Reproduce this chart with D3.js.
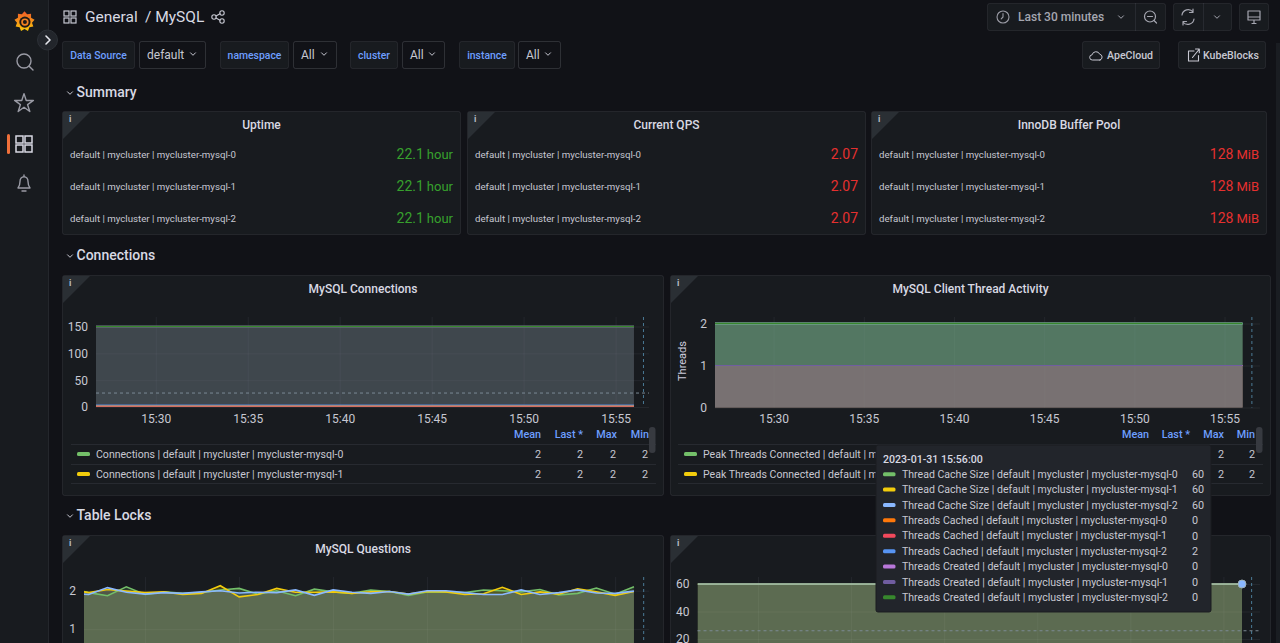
<!DOCTYPE html>
<html>
<head>
<meta charset="utf-8">
<title>MySQL</title>
<script src="https://cdn.jsdelivr.net/npm/d3@7"></script>
<style>
html, body { margin: 0; padding: 0; background: #111217; overflow: hidden; }
svg { display: block; font-family: Roboto, sans-serif; }
.tick line { stroke: #ccccdc; stroke-opacity: 0.07; }
.tick text { fill: #c7c8d2; font-size: 12px; font-family: Roboto, sans-serif; }
.domain { display: none; }
</style>
</head>
<body>
<div id="chart"></div>
<script>
var width = 1280, height = 643;

// ---- data ----
var palette = ['#73BF69', '#F2CC0C', '#8AB8FF', '#FF780A', '#F2495C', '#5794F2', '#B877D9', '#705DA0', '#37872D'];

var instances = ['mycluster-mysql-0', 'mycluster-mysql-1', 'mycluster-mysql-2'];
var uptimeValues = ['22.1', '22.1', '22.1'];
var qpsValues = ['2.07', '2.07', '2.07'];
var bufferValues = ['128', '128', '128'];

var flatTimes = ['15:26:45', '15:56:00'];
var connectionLevels = [[2, 2], [2, 2], [2, 2], [2, 2], [1, 1], [4, 4], [150, 150], [150, 150], [150, 150]];
var threadLevels = [[2, 2], [2, 2], [2, 2], [1, 1], [1, 1], [2, 2], [1, 1], [1, 1], [2, 2]];
var cacheLevels = [[60, 60], [60, 60], [60, 60], [0, 0], [0, 0], [2, 2], [0, 0], [0, 0], [0, 0]];

var questionTimes = ['15:26:45', '15:27:00', '15:28:00', '15:29:00', '15:30:00', '15:31:00', '15:32:00', '15:33:00',
  '15:34:00', '15:35:00', '15:36:00', '15:37:00', '15:38:00', '15:39:00', '15:40:00', '15:41:00', '15:42:00',
  '15:43:00', '15:44:00', '15:45:00', '15:46:00', '15:47:00', '15:48:00', '15:49:00', '15:50:00', '15:51:00',
  '15:52:00', '15:53:00', '15:54:00', '15:55:00', '15:56:00'];
var questionsGreen = [1.98, 1.95, 1.87, 2.10, 1.90, 1.97, 1.93, 1.95, 2.02, 2.06, 1.91, 2.00, 1.87, 2.04, 1.97, 1.93,
  2.02, 1.98, 1.88, 1.97, 1.96, 1.95, 2.02, 2.00, 1.97, 2.03, 1.89, 1.93, 2.07, 1.91, 2.10];
var questionsYellow = [1.97, 1.95, 2.03, 1.99, 1.95, 1.97, 1.90, 1.93, 2.13, 1.84, 1.90, 2.06, 1.96, 1.96, 1.97, 1.93,
  1.97, 1.98, 1.91, 1.98, 1.97, 1.90, 1.92, 2.09, 1.90, 1.97, 1.91, 2.05, 1.97, 1.88, 1.98];
var questionsBlue = [1.91, 1.90, 2.08, 1.96, 1.91, 1.95, 1.93, 1.97, 2.00, 1.94, 1.96, 1.95, 2.02, 1.88, 2.02, 1.96,
  1.93, 1.98, 1.91, 2.00, 2.00, 1.95, 1.90, 1.90, 2.02, 1.90, 1.95, 2.02, 1.94, 1.93, 1.99];

var tickTimes = ['15:30:00', '15:35:00', '15:40:00', '15:45:00', '15:50:00', '15:55:00'];
var legendStats = ['Mean', 'Last *', 'Max', 'Min'];
var legendValues = [2, 2, 2, 2];
var tooltipDate = '2023-01-31 15:56:00';
var tooltipNames = ['Thread Cache Size', 'Thread Cache Size', 'Thread Cache Size', 'Threads Cached', 'Threads Cached',
  'Threads Cached', 'Threads Created', 'Threads Created', 'Threads Created'];
var tooltipValues = [60, 60, 60, 0, 0, 2, 0, 0, 0];

// ---- helpers ----
var parseTime = d3.timeParse('%H:%M:%S'),
    tickFormat = d3.timeFormat('%H:%M');
var panelBg = '#181b1f', lineCol = 'rgba(204,204,220,0.09)', textCol = '#ccccdc', blue = '#6e9fff';

var svg = d3.select('#chart').append('svg')
    .attr('width', width)
    .attr('height', height)
    .style('background', '#111217');

var defs = svg.append('defs');
var logoGrad = defs.append('linearGradient').attr('id', 'logoGrad').attr('x1', 0).attr('y1', 1).attr('x2', 0).attr('y2', 0);
logoGrad.append('stop').attr('offset', '0%').attr('stop-color', '#fbca0a');
logoGrad.append('stop').attr('offset', '100%').attr('stop-color', '#f05a28');

function label(g, x, y, str, o) {
  o = o || {};
  return g.append('text')
    .attr('x', x).attr('y', y).attr('dy', '0.35em')
    .attr('text-anchor', o.anchor || 'start')
    .attr('fill', o.fill || textCol)
    .attr('font-size', o.size || 12)
    .attr('font-weight', o.weight || 400)
    .text(str);
}

function box(g, x0, x1, y0, y1, fill, stroke) {
  return g.append('rect')
    .attr('x', x0 + 0.5).attr('y', y0 + 0.5)
    .attr('width', x1 - x0 - 1).attr('height', y1 - y0 - 1)
    .attr('rx', 2)
    .attr('fill', fill)
    .attr('stroke', stroke || lineCol);
}

function icon(g, d, col, w) {
  return g.append('path').attr('d', d).attr('fill', 'none')
    .attr('stroke', col || '#c7c8d2').attr('stroke-width', w || 1.3)
    .attr('stroke-linecap', 'round').attr('stroke-linejoin', 'round');
}

function chevron(g, x, y, col) {
  icon(g, 'M' + (x - 2.5) + ' ' + (y - 1.2) + 'L' + x + ' ' + (y + 1.3) + 'L' + (x + 2.5) + ' ' + (y - 1.2), col || '#c7c8d2', 1);
}

function gridIcon(g, x, y, s, col, w) {
  var c = (s - 2) / 2;
  [[0, 0], [c + 2, 0], [0, c + 2], [c + 2, c + 2]].forEach(function(p) {
    g.append('rect').attr('x', x + p[0]).attr('y', y + p[1]).attr('width', c).attr('height', c)
      .attr('fill', 'none').attr('stroke', col).attr('stroke-width', w);
  });
}

function panel(x0, x1, y0, y1, title) {
  var g = svg.append('g');
  box(g, x0, x1, y0, y1, panelBg);
  g.append('path')
    .attr('d', 'M' + (x0 + 1) + ' ' + (y0 + 1) + 'h27l-27 27z')
    .attr('fill', '#2a2f34');
  label(g, x0 + 7, y0 + 8, 'i', { size: 9, weight: 700, fill: '#b9bac4' });
  if (title) label(g, (x0 + x1) / 2, y0 + 14, title, { anchor: 'middle', size: 12, weight: 500, fill: '#d8d9e3' });
  return g;
}

function statPanel(x0, x1, title, values, unit, col) {
  var g = panel(x0, x1, 111, 235, title);
  var rowY = d3.scalePoint().domain(instances).range([155, 219]);
  instances.forEach(function(inst, i) {
    label(g, x0 + 8, rowY(inst) - 0.5, 'default | mycluster | ' + inst, { size: 9.7, fill: '#c7c8d2' });
    var t = label(g, x1 - 8, rowY(inst) - 0.5, '', { anchor: 'end', fill: col, size: 14 });
    t.append('tspan').text(values[i]);
    if (unit) t.append('tspan').attr('dx', 3).attr('font-size', 13).text(unit);
  });
}

// time series drawn with its own scales and axes
function timeSeries(o) {
  var g = svg.append('g');
  var x = d3.scaleTime().domain(o.xDomain.map(parseTime)).range([o.x0, o.x1]);
  var y = d3.scaleLinear().domain(o.yDomain).range([o.y0, o.y1]);
  var clipId = 'clip' + Math.round(o.x0) + Math.round(o.y1);
  defs.append('clipPath').attr('id', clipId).append('rect')
    .attr('x', o.x0).attr('y', o.y1).attr('width', o.x1 - o.x0).attr('height', o.y0 - o.y1 + 2);

  // panels that run past the bottom of the page show no time labels
  var xAxis = d3.axisBottom(x).tickValues(tickTimes.map(parseTime)).tickSize(0);
  xAxis.tickFormat(o.xLabels === false ? '' : tickFormat);
  g.append('g')
    .attr('transform', 'translate(0,' + o.y0 + ')')
    .call(xAxis)
    .call(function(a) {
      a.selectAll('text').attr('y', Math.floor(o.y0) + 12 - o.y0).attr('dy', '0.35em');
      a.selectAll('line').attr('y2', o.y1 - o.y0);
    });

  g.append('g')
    .attr('transform', 'translate(' + o.x0 + ',0)')
    .call(d3.axisLeft(y).tickValues(o.yTicks).tickFormat(d3.format('d')).tickSize(-(o.x1 - o.x0)).tickPadding(8));

  var times = o.times.map(parseTime);
  var area = d3.area()
    .x(function(d, i) { return x(times[i]); })
    .y0(y(0))
    .y1(function(d) { return y(d); });
  var line = d3.line()
    .x(function(d, i) { return x(times[i]); })
    .y(function(d) { return y(d); });

  var top = d3.max(o.series, function(s) { return d3.max(s); });
  var marks = g.append('g').attr('clip-path', 'url(#' + clipId + ')');
  marks.selectAll('.fill').data(o.series).enter().append('path')
    .attr('d', area)
    .attr('fill', function(d, i) { return palette[i]; })
    .attr('fill-opacity', 0.2);
  marks.selectAll('.stroke').data(o.series).enter().append('path')
    .attr('d', line)
    .attr('fill', 'none')
    .attr('stroke', function(d, i) { return palette[i]; })
    .attr('stroke-width', function(d) { return o.topWidth && d[0] === top ? o.topWidth : (o.lineWidth || 1); })
    .attr('stroke-opacity', function(d) { return o.dimBelow && d[0] < o.dimBelow ? 0.55 : 1; });

  // shared crosshair
  var cross = parseTime('15:56:31');
  g.append('line')
    .attr('x1', x(cross)).attr('x2', x(cross))
    .attr('y1', o.y1).attr('y2', Math.min(o.y0, height))
    .attr('stroke', '#4a7a96').attr('stroke-dasharray', '3,3');
  if (o.crossValue !== undefined) {
    g.append('line')
      .attr('x1', o.x0).attr('x2', o.x1)
      .attr('y1', y(o.crossValue)).attr('y2', y(o.crossValue))
      .attr('stroke', '#7b8a94').attr('stroke-dasharray', '3,3');
  }
  return { x: x, y: y, g: g };
}

// rows[i] is the visible text of a legend row, valueX holds only the columns left uncovered
function legend(x0, x1, swatchX, textX, rows, statRight, valueX) {
  var g = svg.append('g');
  legendStats.forEach(function(s, i) {
    label(g, statRight[i], 434.5, s, { anchor: 'end', fill: blue, size: 10.8, weight: 500 });
  });
  [444, 464, 483].forEach(function(y) {
    g.append('line').attr('x1', x0).attr('x2', x1).attr('y1', y + 0.5).attr('y2', y + 0.5).attr('stroke', lineCol);
  });
  rows.forEach(function(txt, r) {
    var y = 454 + r * 20;
    g.append('rect').attr('x', swatchX).attr('y', y - 2).attr('width', 13).attr('height', 4).attr('rx', 1.5).attr('fill', palette[r]);
    label(g, textX, y, txt, { size: 10.55, fill: '#c7c8d2' });
    valueX.forEach(function(vx, i) {
      label(g, vx, y, legendValues[i], { anchor: 'end', size: 10.8, fill: '#c7c8d2' });
    });
  });
}

// ---- sidebar ----
var side = svg.append('g');
side.append('rect').attr('width', 48.5).attr('height', height).attr('fill', panelBg);
side.append('line').attr('x1', 48.5).attr('x2', 48.5).attr('y1', 0).attr('y2', height).attr('stroke', '#24272c');
var logo = side.append('g').attr('transform', 'translate(24.5,21.5)');
var teeth = d3.range(18).map(function(i) { return [i * Math.PI / 9, i % 2 ? 7.6 : 10.2]; });
logo.append('path')
  .attr('d', d3.lineRadial().curve(d3.curveLinearClosed)(teeth))
  .attr('fill', 'url(#logoGrad)');
logo.append('circle').attr('r', 5.6).attr('cx', 0.4).attr('cy', 0.6).attr('fill', '#1d1a18');
logo.append('circle').attr('r', 3.7).attr('cx', 0.4).attr('cy', 0.6).attr('fill', '#f58220');
logo.append('circle').attr('r', 2).attr('cx', 0.4).attr('cy', 0.6).attr('fill', '#1d1a18');
side.append('circle').attr('cx', 24).attr('cy', 61).attr('r', 7).attr('fill', 'none').attr('stroke', '#9a9ba5').attr('stroke-width', 1.4);
icon(side, 'M29.2 66.2L33 70', '#9a9ba5', 1.4);
side.append('path').attr('transform', 'translate(24,103.5)')
  .attr('d', d3.symbol().type(d3.symbolStar).size(110)())
  .attr('fill', 'none').attr('stroke', '#9a9ba5').attr('stroke-width', 1.4).attr('stroke-linejoin', 'round');
side.append('rect').attr('x', 7).attr('y', 134).attr('width', 3).attr('height', 20).attr('rx', 1.5).attr('fill', '#f0703a');
gridIcon(side, 16, 136, 16, '#d8d9e3', 1.5);
icon(side, 'M18 188h12c-1.6-2-2-3.5-2-6.5c0-2.8-1.8-4.8-4-4.8s-4 2-4 4.8c0 3-.4 4.5-2 6.5zM22 191h4M24 175v1.6', '#9a9ba5', 1.4);
side.append('circle').attr('cx', 47.5).attr('cy', 40).attr('r', 10).attr('fill', '#22252b').attr('stroke', '#2c3036');
icon(side, 'M46 36l4 4l-4 4', '#e6e7ee', 1.6);

// ---- header ----
var head = svg.append('g');
gridIcon(head, 64, 11, 12, '#c7c8d2', 1.2);
label(head, 85, 17, 'General', { size: 15.5, fill: '#d8d9e3' });
label(head, 145, 17, '/ MySQL', { size: 15.5, fill: '#d8d9e3' });
head.selectAll('.share').data([[214, 17], [222, 13], [222, 21]]).enter().append('circle')
  .attr('cx', function(d) { return d[0]; }).attr('cy', function(d) { return d[1]; }).attr('r', 2.2)
  .attr('fill', 'none').attr('stroke', '#c7c8d2').attr('stroke-width', 1.1);
icon(head, 'M216 16l4-2.2M216 18l4 2.2', '#c7c8d2', 1.1);

var toolBg = '#181b1f';
box(head, 987, 1166, 3, 31, toolBg);
head.append('line').attr('x1', 1135.5).attr('x2', 1135.5).attr('y1', 3).attr('y2', 31).attr('stroke', lineCol);
head.append('circle').attr('cx', 1003).attr('cy', 17).attr('r', 6).attr('fill', 'none').attr('stroke', '#9a9ba5').attr('stroke-width', 1.1);
icon(head, 'M1003 13.5v3.5l-1.8 1.8', '#9a9ba5', 1.1);
label(head, 1018, 17, 'Last 30 minutes', { size: 12, weight: 500, fill: '#a5a6b0' });
chevron(head, 1121, 17, '#a5a6b0');
head.append('circle').attr('cx', 1150).attr('cy', 16.5).attr('r', 5.5).attr('fill', 'none').attr('stroke', '#a5a6b0').attr('stroke-width', 1.2);
icon(head, 'M1147.5 16.5h5M1154 20.5l2.5 2.5', '#a5a6b0', 1.2);
box(head, 1173, 1232, 3, 31, toolBg);
head.append('line').attr('x1', 1203.5).attr('x2', 1203.5).attr('y1', 3).attr('y2', 31).attr('stroke', lineCol);
icon(head, 'M1182 15a6.2 6.2 0 0 1 11-3M1194 19a6.2 6.2 0 0 1-11 3M1193 9v3.5h-3.5M1183 25v-3.5h3.5', '#a5a6b0', 1.2);
chevron(head, 1217, 17, '#a5a6b0');
box(head, 1239, 1269, 3, 31, toolBg);
icon(head, 'M1248 11h12v9h-12zM1248 17h12M1252 23.5h4M1254 20v3.5', '#a5a6b0', 1.2);

// variable row
var filters = [
  { name: 'Data Source', value: 'default', a: 62, b: 135, c: 139, d: 206 },
  { name: 'namespace', value: 'All', a: 220, b: 289, c: 293, d: 337 },
  { name: 'cluster', value: 'All', a: 350, b: 398, c: 402, d: 445 },
  { name: 'instance', value: 'All', a: 459, b: 515, c: 518, d: 561 }
];
filters.forEach(function(f) {
  box(head, f.a, f.b, 41, 69, toolBg);
  label(head, (f.a + f.b) / 2, 55, f.name, { anchor: 'middle', size: 10.4, weight: 500, fill: blue });
  box(head, f.c, f.d, 41, 69, '#111217', 'rgba(204,204,220,0.16)');
  label(head, f.c + 8, 54.5, f.value, { size: 12, fill: '#c7c8d2' });
  chevron(head, f.d - 13, 54, '#c7c8d2');
});
box(head, 1082, 1160, 41, 69, toolBg);
icon(head, 'M1100 60h-7.5a2.6 2.6 0 0 1-.4-5.2a4 4 0 0 1 7.6-.6a3 3 0 0 1 .3 5.8z', '#c7c8d2', 1);
label(head, 1107, 55, 'ApeCloud', { size: 10.6, weight: 500, fill: '#c7c8d2' });
box(head, 1178, 1266, 41, 69, toolBg);
icon(head, 'M1194 51h-5.5v10h10v-5.5M1192.5 57.5l6.5-8M1195.5 49h3.8v3.8', '#c7c8d2', 1.1);
label(head, 1203, 55, 'KubeBlocks', { size: 10.6, weight: 500, fill: '#c7c8d2' });
head.append('rect').attr('x', 1276).attr('y', 43).attr('width', 4).attr('height', 600).attr('fill', '#1a1d22');

[['Summary', 92], ['Connections', 255], ['Table Locks', 515]].forEach(function(s) {
  chevron(head, 70, s[1] + 1, '#c7c8d2');
  label(head, 76.5, s[1], s[0], { size: 14, weight: 500, fill: '#d8d9e3' });
});

// ---- summary ----
statPanel(62, 461, 'Uptime', uptimeValues, 'hour', '#37a02d');
statPanel(467, 866, 'Current QPS', qpsValues, '', '#e5302f');
statPanel(871, 1267, 'InnoDB Buffer Pool', bufferValues, 'MiB', '#e5302f');

// ---- connections row ----
panel(62, 664, 275, 496, 'MySQL Connections');
timeSeries({
  x0: 96, x1: 649, y0: 407, y1: 317,
  xDomain: ['15:26:45', '15:56:49'], yDomain: [0, 150 * 90 / 80.5], yTicks: [0, 50, 100, 150],
  times: flatTimes, series: connectionLevels, crossValue: 26, lineWidth: 1.3, dimBelow: 10
});
legend(71, 656, 77, 96, ['Connections | default | mycluster | ' + instances[0], 'Connections | default | mycluster | ' + instances[1]],
  [541, 583, 617, 649], [541, 583, 616, 648]);
svg.append('rect').attr('x', 649).attr('y', 427).attr('width', 6.5).attr('height', 26).attr('rx', 3).attr('fill', '#373a40');

panel(670, 1271, 275, 496, 'MySQL Client Thread Activity');
timeSeries({
  x0: 715, x1: 1260, y0: 407.5, y1: 317,
  xDomain: ['15:26:45', '15:56:58'], yDomain: [0, 2 * 90.5 / 84], yTicks: [0, 1, 2],
  times: flatTimes, series: threadLevels, topWidth: 1.5
});
svg.append('text').attr('transform', 'translate(682,361) rotate(-90)').attr('dy', '0.35em')
  .attr('text-anchor', 'middle').attr('fill', textCol).attr('font-size', 11).text('Threads');
// the tooltip covers the rest of these two rows, as in the reference
legend(678, 1263, 684, 703, ['Peak Threads Connected | default | m', 'Peak Threads Connected | default | m'],
  [1149, 1190, 1224, 1255], [1224, 1255]);
svg.append('rect').attr('x', 1256).attr('y', 427).attr('width', 6.5).attr('height', 26).attr('rx', 3).attr('fill', '#373a40');

// ---- table locks row ----
panel(62, 664, 535, 700, 'MySQL Questions');
timeSeries({
  x0: 84, x1: 649, y0: 667.6, y1: 577,
  xDomain: ['15:26:45', '15:56:48'], yDomain: [0, 2 * 90.6 / 76.9], yTicks: [1, 2], xLabels: false,
  times: questionTimes, series: [questionsGreen, questionsYellow, questionsBlue], lineWidth: 1.6
});

panel(670, 1271, 535, 700, '');
var cache = timeSeries({
  x0: 697.5, x1: 1260, y0: 666.5, y1: 577,
  xDomain: ['15:26:45', '15:56:58'], yDomain: [0, 60 * 89.5 / 82.5], yTicks: [20, 40, 60], xLabels: false,
  times: flatTimes, series: cacheLevels, crossValue: 26
});
cache.g.append('circle')
  .attr('cx', cache.x(parseTime('15:56:00')))
  .attr('cy', cache.y(60))
  .attr('r', 4)
  .attr('fill', palette[2]).attr('stroke', '#9fb0b5').attr('stroke-width', 1);

// ---- tooltip ----
var tip = svg.append('g');
tip.append('rect').attr('x', 876).attr('y', 445).attr('width', 335).attr('height', 167).attr('rx', 2)
  .attr('fill', '#22252b').attr('stroke', '#1a1c20');
label(tip, 883, 459, tooltipDate, { size: 10.6, weight: 500, fill: '#d8d9e3' });
var tipY = d3.scaleBand().domain(d3.range(tooltipNames.length)).range([466.5, 605]);
tooltipNames.forEach(function(n, i) {
  var y = tipY(i) + tipY.bandwidth() / 2;
  tip.append('rect').attr('x', 883).attr('y', y - 2).attr('width', 12.5).attr('height', 4).attr('rx', 1.5).attr('fill', palette[i]);
  label(tip, 902, y, n + ' | default | mycluster | ' + instances[i % 3], { size: 10.55, fill: '#c7c8d2' });
  label(tip, 1192, y, tooltipValues[i], { size: 10.8, fill: '#c7c8d2' });
});
</script>
</body>
</html>
